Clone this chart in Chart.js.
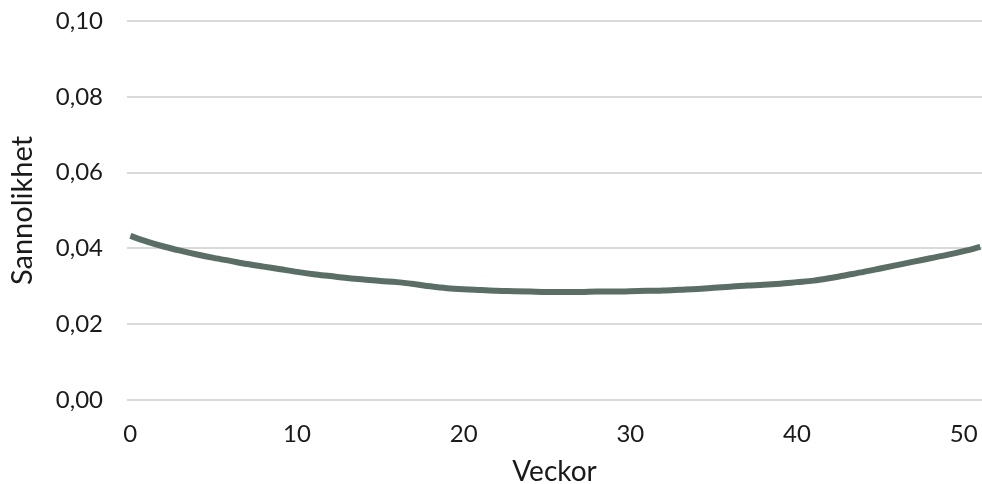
<!DOCTYPE html>
<html>
<head>
<meta charset="utf-8">
<script src="https://cdn.jsdelivr.net/npm/chart.js@4"></script>
<style>
  html, body { margin: 0; padding: 0; background: #fff; }
  #wrap { width: 982px; height: 484px; }
</style>
</head>
<body>
<div id="wrap"><canvas id="probChart"></canvas></div>
<script>
// veckor 0..51
const weeks = [0,1,2,3,4,5,6,7,8,9,10,11,12,13,14,15,16,17,18,19,20,21,22,23,24,25,
    26,27,28,29,30,31,32,33,34,35,36,37,38,39,40,41,42,43,44,45,46,47,48,49,50,51];
const probability = [0.0433,0.0418,0.0405,0.0394,0.0384,0.0375,0.0367,0.0359,0.0352,0.0345,
    0.0338,0.0332,0.0327,0.0322,0.0318,0.0314,0.0311,0.0306,0.0300,0.0295,
    0.0292,0.0290,0.0288,0.0287,0.0286,0.0285,0.0285,0.0285,0.0286,0.0286,
    0.0287,0.0288,0.0289,0.0291,0.0293,0.0296,0.0299,0.0302,0.0304,0.0307,
    0.0311,0.0315,0.0322,0.0330,0.0338,0.0347,0.0356,0.0365,0.0374,0.0383,
    0.0393,0.0404];
const xTicks = [0, 10, 20, 30, 40, 50];
const yTicks = [0, 0.02, 0.04, 0.06, 0.08, 0.10];

const font = 'Lato, "Open Sans", sans-serif';

new Chart(document.getElementById('probChart').getContext('2d'), {
    type: 'line',
    data: {
        datasets: [{
            label: 'Sannolikhet',
            data: weeks.map((w, i) => ({ x: w, y: probability[i] })),
            borderColor: '#5a6e65',
            borderWidth: 6,
            pointRadius: 0,
            fill: false,
            tension: 0.4,
            cubicInterpolationMode: 'monotone'
        }]
    },
    options: {
        responsive: true,
        maintainAspectRatio: false,
        animation: false,
        layout: { autoPadding: false, padding: { top: 21, right: 0, left: 0, bottom: 0 } },
        plugins: {
            legend: { display: false },
            tooltip: { enabled: false }
        },
        scales: {
            x: {
                type: 'linear',
                min: -0.2,
                max: 51.1,
                afterBuildTicks: axis => { axis.ticks = xTicks.map(v => ({ value: v })); },
                afterFit: axis => {
                    axis.paddingLeft = 0;
                    axis.paddingRight = 0;
                    axis.height = 84;
                },
                grid: { display: false },
                border: { display: false },
                ticks: {
                    color: '#1a1a1a',
                    padding: 12,
                    maxRotation: 0,
                    font: { family: font, size: 24 }
                },
                title: {
                    display: true,
                    text: 'Veckor',
                    color: '#1a1a1a',
                    padding: { top: 0, bottom: -2 },
                    font: { family: font, size: 28, lineHeight: 1 }
                }
            },
            y: {
                min: 0,
                max: 0.10,
                afterBuildTicks: axis => { axis.ticks = yTicks.map(v => ({ value: v })); },
                afterFit: axis => {
                    axis.width = 127;
                    axis.paddingTop = 0;
                    axis.paddingBottom = 0;
                },
                grid: { color: '#d9d9d9', lineWidth: 2, drawTicks: false },
                border: { display: false },
                ticks: {
                    color: '#1a1a1a',
                    padding: 24,
                    font: { family: font, size: 24 },
                    callback: v => v.toFixed(2).replace('.', ',')
                },
                title: {
                    display: true,
                    text: 'Sannolikhet',
                    color: '#1a1a1a',
                    padding: { top: 8, bottom: 0 },
                    font: { family: font, size: 29, lineHeight: 1 }
                }
            }
        }
    }
});
</script>
</body>
</html>
